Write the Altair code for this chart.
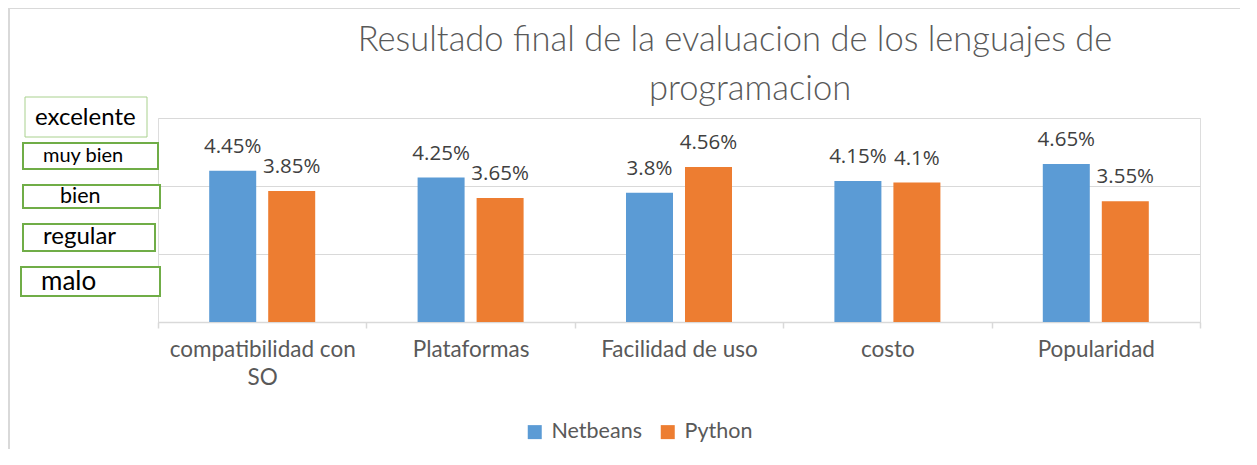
import altair as alt
import pandas as pd

categories = ["compatibilidad con SO", "Plataformas", "Facilidad de uso", "costo", "Popularidad"]
netbeans = [4.45, 4.25, 3.8, 4.15, 4.65]
python = [3.85, 3.65, 4.56, 4.1, 3.55]
netbeans_labels = ["4.45%", "4.25%", "3.8%", "4.15%", "4.65%"]
python_labels = ["3.85%", "3.65%", "4.56%", "4.1%", "3.55%"]
series = ["Netbeans", "Python"]
scale_words = ["excelente", "muy bien", "bien", "regular", "malo"]
title_lines = ["Resultado final de la evaluacion de los  lenguajes de", "programacion"]

rows = []
for i, c in enumerate(categories):
    rows.append({"cat": c, "serie": series[0], "val": netbeans[i], "lab": netbeans_labels[i]})
    rows.append({"cat": c, "serie": series[1], "val": python[i], "lab": python_labels[i]})
df = pd.DataFrame(rows)

FONT = "Lato"
W, H = 1042, 204

x_enc = alt.X("cat:N", sort=categories,
              scale=alt.Scale(paddingInner=0, paddingOuter=0),
              axis=alt.Axis(title=None, labelAngle=0, domainColor="#D9D9D9", domainWidth=1.5,
                            tickColor="#D9D9D9", tickWidth=1.5, tickSize=6, tickBand="extent",
                            labelPadding=10, labelFontSize=22.5, labelColor="#595959", labelFont=FONT,
                            labelLineHeight=28, labelLimit=400,
                            labelExpr="datum.label == 'compatibilidad con SO' ? ['compatibilidad con', 'SO'] : datum.label"))
xoff = alt.XOffset("serie:N", sort=series,
                   scale=alt.Scale(paddingInner=0.2034, paddingOuter=0.8677))
y_enc = alt.Y("val:Q", scale=alt.Scale(domain=[0, 6], nice=False),
              axis=alt.Axis(title=None, labels=False, ticks=False, domain=False,
                            values=[0, 2, 4, 6], gridColor="#D9D9D9", gridWidth=1))
color = alt.Color("serie:N", sort=series,
                  scale=alt.Scale(domain=series, range=["#5B9BD5", "#ED7D31"]),
                  legend=alt.Legend(title=None, orient="none", direction="horizontal",
                                    legendX=366, legendY=303, symbolType="square", symbolSize=196,
                                    symbolStrokeWidth=0, labelFontSize=21.5, labelColor="#595959",
                                    labelFont=FONT, columnPadding=15, labelOffset=6))

base = alt.Chart(df)
bars = base.mark_bar().encode(x=x_enc, xOffset=xoff, y=y_enc, color=color)
labels = base.mark_text(baseline="alphabetic", dy=-18, fontSize=20.5, color="#404040", font="Open Sans").encode(
    x=alt.X("cat:N", sort=categories), xOffset=alt.XOffset("serie:N", sort=series), y="val:Q", text="lab:N")

one = pd.DataFrame({"k": [0]})
frame = alt.Chart(one).mark_rect(fill=None, stroke="#D9D9D9", strokeWidth=2).encode(
    x=alt.value(-149), x2=alt.value(1200), y=alt.value(-110), y2=alt.value(400))

# title lines (decoration text, placed in pixels)
title_geom = [(577, -67), (592, -18)]
titles = []
for line, (tx, ty) in zip(title_lines, title_geom):
    tdf = pd.DataFrame({"t": [line]})
    titles.append(alt.Chart(tdf).mark_text(align="center", baseline="alphabetic", fontSize=34.5,
                                            font=FONT, fontWeight=300, color="#595959").encode(
        x=alt.value(tx), y=alt.value(ty), text="t:N"))

# annotation boxes (pixel geometry of the decoration)
box_geom = [(-133, -11, -21, 19, 1, "#A9D18E", -123, 0, 24),
            (-135, 0, 25, 51, 2, "#70AD47", -115, 38, 20),
            (-135, 2, 67, 90, 2, "#70AD47", -98, 79, 21.5),
            (-135, -3, 106, 133, 2, "#70AD47", -115, 119, 24),
            (-137, 2, 149, 178, 2, "#70AD47", -117, 164, 26)]
ann = []
for word, (x1, x2, y1, y2, sw, sc, tx, ty, fs) in zip(scale_words, box_geom):
    wdf = pd.DataFrame({"w": [word]})
    ann.append(alt.Chart(wdf).mark_rect(fill="white", stroke=sc, strokeWidth=sw).encode(
        x=alt.value(x1), x2=alt.value(x2), y=alt.value(y1), y2=alt.value(y2)))
    ann.append(alt.Chart(wdf).mark_text(align="left", baseline="middle", fontSize=fs, color="black", font=FONT).encode(
        x=alt.value(tx), y=alt.value(ty), text="w:N"))

chart = alt.layer(frame, bars, labels, *titles, *ann).properties(
    width=W, height=H,
    padding={"left": 150, "top": 110, "right": 40, "bottom": 127},
    autosize=alt.AutoSizeParams(type="none"),
).configure_view(stroke=None).configure(background="white")

chart.save("out.html", embed_options={"renderer": "svg", "actions": False})
